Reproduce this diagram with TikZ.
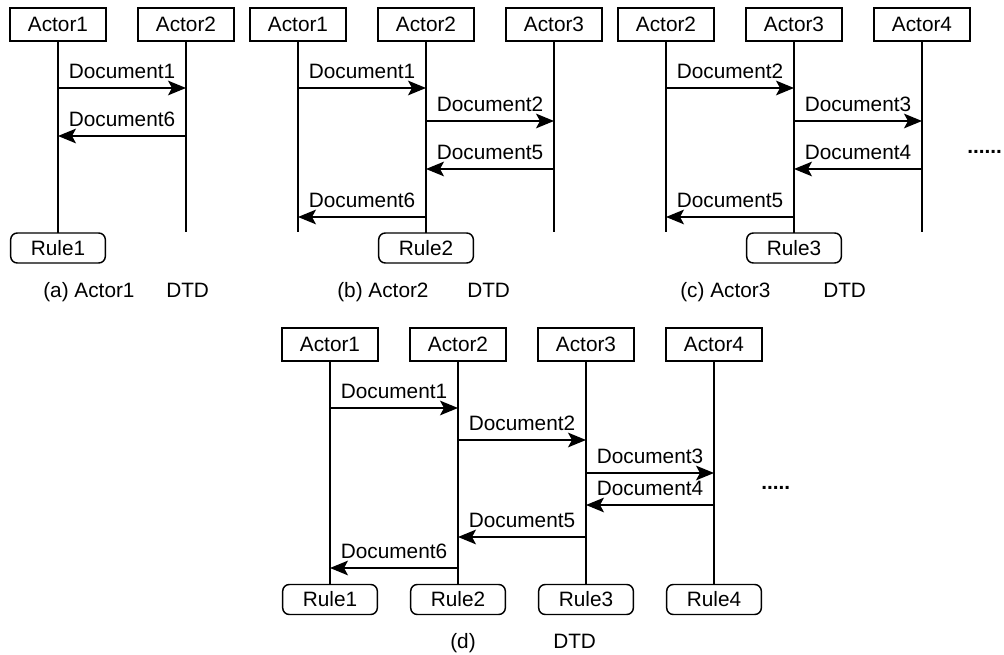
\documentclass[tikz,border=0pt]{standalone}
\usepackage{fontspec}
\setmainfont{Liberation Sans}
\usetikzlibrary{arrows.meta}
\begin{document}
\begin{tikzpicture}[x=0.75pt,y=-0.75pt,
  font=\fontsize{15.6pt}{18pt}\selectfont,
  actor/.style={draw, line width=1.1pt, minimum width=72pt, minimum height=24.5pt, inner sep=0pt, outer sep=0pt},
  rulebox/.style={draw, line width=1.1pt, rounded corners=5pt, minimum width=71pt, minimum height=22.5pt, inner sep=0pt, outer sep=0pt},
  life/.style={line width=1.1pt},
  msg/.style={line width=1.1pt, -{Stealth[length=13.5pt,width=11pt,inset=3pt]}},
  lbl/.style={above=6.5pt, inner sep=0pt, text depth=0pt},
  captxt/.style={anchor=base west, inner sep=0pt},
  dotstxt/.style={anchor=base west, inner sep=0pt, font=\fontsize{15.6pt}{18pt}\selectfont\bfseries}]
\useasboundingbox (0,0) rectangle (1004,655);

% ---------- (a) ----------
\node[actor] (aA1) at (58,24.5) {Actor1};
\node[actor] (aA2) at (186,24.5) {Actor2};
\node[rulebox] (aR1) at (58,248) {Rule1};
\coordinate (aE2) at (186,232);
\draw[life] (aA1) -- (aR1);
\draw[life] (aA2) -- (aE2);
\draw[msg] (aA1 |- 0,88) -- node[lbl]{Document1} (aA2 |- 0,88);
\draw[msg] (aA2 |- 0,136) -- node[lbl]{Document6} (aA1 |- 0,136);
\node[captxt] (aC1) at (43,298) {(a) Actor1};
\node[captxt] (aC2) at (166,298) {DTD};

% ---------- (b) ----------
\node[actor] (bA1) at (298,24.5) {Actor1};
\node[actor] (bA2) at (426,24.5) {Actor2};
\node[actor] (bA3) at (554,24.5) {Actor3};
\node[rulebox] (bR2) at (426,248) {Rule2};
\coordinate (bE1) at (298,232);
\coordinate (bE3) at (554,232);
\draw[life] (bA1) -- (bE1);
\draw[life] (bA2) -- (bR2);
\draw[life] (bA3) -- (bE3);
\draw[msg] (bA1 |- 0,88) -- node[lbl]{Document1} (bA2 |- 0,88);
\draw[msg] (bA2 |- 0,121) -- node[lbl]{Document2} (bA3 |- 0,121);
\draw[msg] (bA3 |- 0,169) -- node[lbl]{Document5} (bA2 |- 0,169);
\draw[msg] (bA2 |- 0,217) -- node[lbl]{Document6} (bA1 |- 0,217);
\node[captxt] (bC1) at (337,298) {(b) Actor2};
\node[captxt] (bC2) at (467,298) {DTD};

% ---------- (c) ----------
\node[actor] (cA2) at (666,24.5) {Actor2};
\node[actor] (cA3) at (794,24.5) {Actor3};
\node[actor] (cA4) at (922,24.5) {Actor4};
\node[rulebox] (cR3) at (794,248) {Rule3};
\coordinate (cE2) at (666,232);
\coordinate (cE4) at (922,232);
\draw[life] (cA2) -- (cE2);
\draw[life] (cA3) -- (cR3);
\draw[life] (cA4) -- (cE4);
\draw[msg] (cA2 |- 0,88) -- node[lbl]{Document2} (cA3 |- 0,88);
\draw[msg] (cA3 |- 0,121) -- node[lbl]{Document3} (cA4 |- 0,121);
\draw[msg] (cA4 |- 0,169) -- node[lbl]{Document4} (cA3 |- 0,169);
\draw[msg] (cA3 |- 0,217) -- node[lbl]{Document5} (cA2 |- 0,217);
\node[dotstxt] (cD) at (967,154) {......};
\node[captxt] (cC1) at (680,298) {(c) Actor3};
\node[captxt] (cC2) at (823,298) {DTD};

% ---------- (d) ----------
\node[actor] (dA1) at (330,344.5) {Actor1};
\node[actor] (dA2) at (458,344.5) {Actor2};
\node[actor] (dA3) at (586,344.5) {Actor3};
\node[actor] (dA4) at (714,344.5) {Actor4};
\node[rulebox] (dR1) at (330,599.5) {Rule1};
\node[rulebox] (dR2) at (458,599.5) {Rule2};
\node[rulebox] (dR3) at (586,599.5) {Rule3};
\node[rulebox] (dR4) at (714,599.5) {Rule4};
\draw[life] (dA1) -- (dR1);
\draw[life] (dA2) -- (dR2);
\draw[life] (dA3) -- (dR3);
\draw[life] (dA4) -- (dR4);
\draw[msg] (dA1 |- 0,408) -- node[lbl]{Document1} (dA2 |- 0,408);
\draw[msg] (dA2 |- 0,440) -- node[lbl]{Document2} (dA3 |- 0,440);
\draw[msg] (dA3 |- 0,473) -- node[lbl]{Document3} (dA4 |- 0,473);
\draw[msg] (dA4 |- 0,505) -- node[lbl]{Document4} (dA3 |- 0,505);
\draw[msg] (dA3 |- 0,537) -- node[lbl]{Document5} (dA2 |- 0,537);
\draw[msg] (dA2 |- 0,568) -- node[lbl]{Document6} (dA1 |- 0,568);
\node[dotstxt] (dD) at (761,490) {.....};
\node[captxt] (dC1) at (450,649) {(d)};
\node[captxt] (dC2) at (553,649) {DTD};
\end{tikzpicture}
\end{document}
